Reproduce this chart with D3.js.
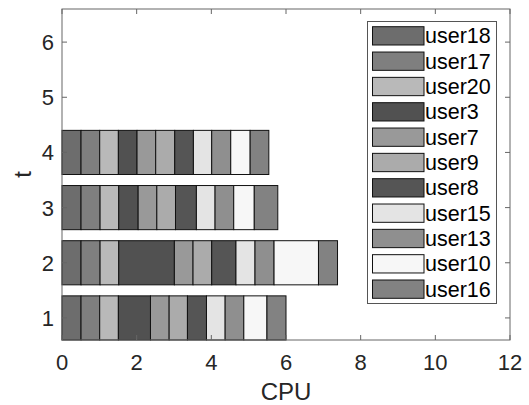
<!DOCTYPE html>
<html><head><meta charset="utf-8">
<script src="https://cdn.jsdelivr.net/npm/d3@7"></script>
<style>body{margin:0;background:#fff}svg{display:block;font-family:"Liberation Sans",Arial,sans-serif}</style>
</head><body><svg id="c" width="529" height="405"></svg>
<script>
const users = ["user18","user17","user20","user3","user7","user9","user8","user15","user13","user10","user16"];
const colors = ["#6d6d6d","#7f7f7f","#b9b9b9","#515151","#999999","#ababab","#555555","#e4e4e4","#8f8f8f","#f7f7f7","#828282"];
const times = [1,2,3,4];
const cpu_t1 = [0.51,0.50,0.50,0.86,0.50,0.49,0.51,0.50,0.50,0.62,0.51];
const cpu_t2 = [0.51,0.51,0.50,1.49,0.50,0.50,0.65,0.51,0.51,1.19,0.51];
const cpu_t3 = [0.51,0.51,0.50,0.52,0.50,0.50,0.56,0.50,0.50,0.55,0.63];
const cpu_t4 = [0.51,0.50,0.50,0.50,0.50,0.51,0.50,0.49,0.51,0.52,0.50];
const xTicks = [0,2,4,6,8,10,12];
const yTicks = [1,2,3,4,5,6];

const rows = [cpu_t1,cpu_t2,cpu_t3,cpu_t4];
const svg = d3.select("#c");
const L=62,R=510,T=9,B=340;
const x = d3.scaleLinear().domain([0,12]).range([L,R]);
const y = d3.scaleLinear().domain([0.6,6.6]).range([B,T]);
const barH = y(0)-y(0.8);
const axisColor="#262626";

rows.forEach((vals,ri)=>{
  const t=times[ri];
  const stacked=[]; let acc=0;
  vals.forEach((v,i)=>{stacked.push({x0:acc,x1:acc+v,i}); acc+=v;});
  svg.append("g").selectAll("rect").data(stacked).join("rect")
    .attr("x",d=>x(d.x0)).attr("width",d=>x(d.x1)-x(d.x0))
    .attr("y",y(t)-barH/2).attr("height",barH)
    .attr("fill",d=>colors[d.i]).attr("stroke","#111").attr("stroke-width",1);
});

svg.append("rect").attr("x",L).attr("y",T).attr("width",R-L).attr("height",B-T)
  .attr("fill","none").attr("stroke","#666").attr("stroke-width",1);

const ax = svg.append("g");
const tl=5;
xTicks.forEach(v=>{
  ax.append("line").attr("x1",x(v)).attr("x2",x(v)).attr("y1",B).attr("y2",B-tl).attr("stroke","#666");
  ax.append("line").attr("x1",x(v)).attr("x2",x(v)).attr("y1",T).attr("y2",T+tl).attr("stroke","#666");
  ax.append("text").attr("x",x(v)).attr("y",370).attr("text-anchor","middle")
    .attr("font-size",22).attr("fill",axisColor).text(v);
});
yTicks.forEach(v=>{
  ax.append("line").attr("x1",L).attr("x2",L+tl).attr("y1",y(v)).attr("y2",y(v)).attr("stroke","#666");
  ax.append("line").attr("x1",R).attr("x2",R-tl).attr("y1",y(v)).attr("y2",y(v)).attr("stroke","#666");
  ax.append("text").attr("x",54).attr("y",y(v)+8).attr("text-anchor","end")
    .attr("font-size",22).attr("fill",axisColor).text(v);
});
svg.append("text").attr("x",(L+R)/2).attr("y",400).attr("text-anchor","middle")
  .attr("font-size",24).attr("fill",axisColor).text("CPU");
svg.append("text").attr("transform",`translate(31,${(T+B)/2}) rotate(-90)`).attr("text-anchor","middle")
  .attr("font-size",24).attr("fill",axisColor).text("t");

const lg = svg.append("g");
lg.append("rect").attr("x",367.5).attr("y",21.5).attr("width",129).attr("height",282)
  .attr("fill","#fff").attr("stroke","#555").attr("stroke-width",1);
users.forEach((u,i)=>{
  const yy=26.7+i*25.33;
  lg.append("rect").attr("x",372.5).attr("y",yy).attr("width",51.5).attr("height",18.3)
    .attr("fill",colors[i]).attr("stroke","#111").attr("stroke-width",1);
  lg.append("text").attr("x",425).attr("y",yy+16.5)
    .attr("font-size",21.5).attr("fill","#000").text(u);
});
</script></body></html>
